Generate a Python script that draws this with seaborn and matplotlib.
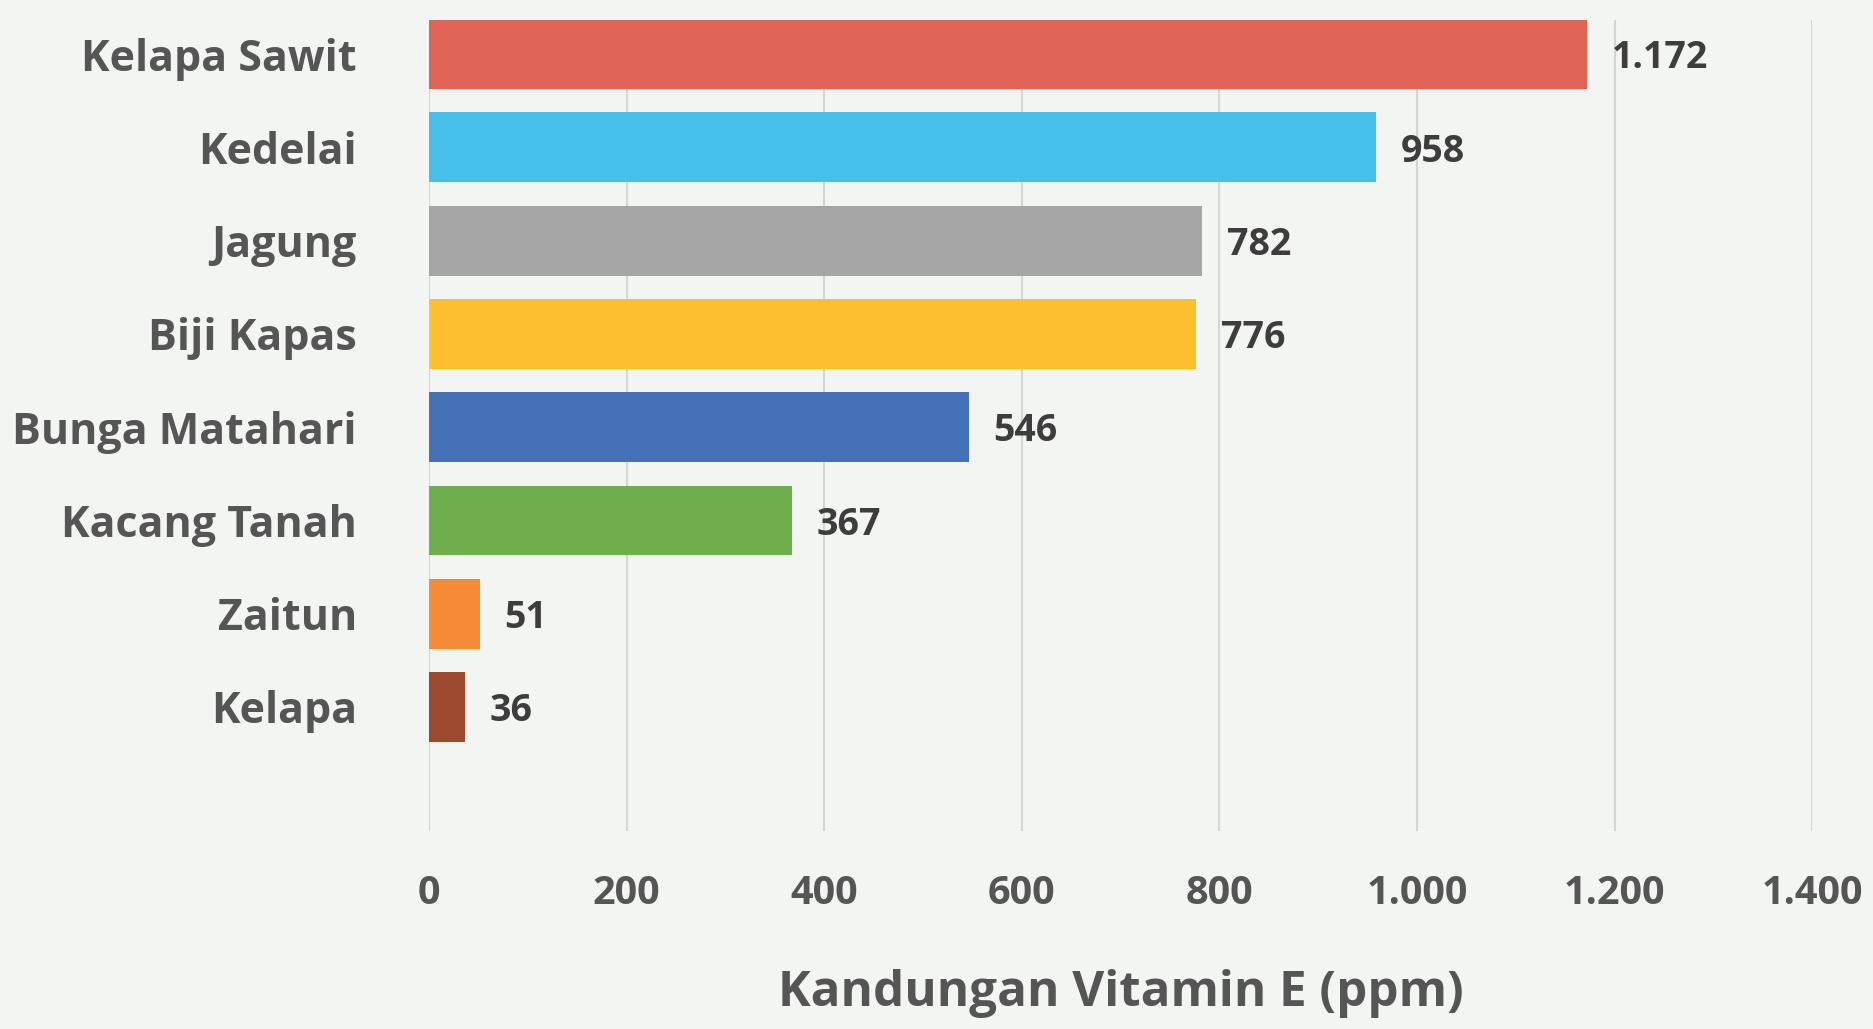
import matplotlib
matplotlib.use("Agg")
import matplotlib.pyplot as plt
import seaborn as sns
import pandas as pd

categories = ["Kelapa Sawit", "Kedelai", "Jagung", "Biji Kapas",
              "Bunga Matahari", "Kacang Tanah", "Zaitun", "Kelapa"]
values = [1172, 958, 782, 776, 546, 367, 51, 36]
colors = ["#e06455", "#46bfea", "#a6a6a6", "#fdbf2e",
          "#4571b6", "#6fae4d", "#f58b34", "#9c4930"]
xticks = [0, 200, 400, 600, 800, 1000, 1200, 1400]
xlabel = "Kandungan Vitamin E (ppm)"

def fmt(v):
    return f"{v:,}".replace(",", ".")

sns.set_style("white")
plt.rcParams['font.family'] = ['Open Sans', 'DejaVu Sans']
bg = "#f3f5f2"
text_col = "#555555"

fig = plt.figure(figsize=(18.74, 10.29), dpi=100, facecolor=bg)
ax = fig.add_axes([0.229, 0.1924, 0.738, 0.788])
ax.set_facecolor(bg)

df = pd.DataFrame({"cat": categories, "val": values})
sns.barplot(data=df, x="val", y="cat", hue="cat", palette=colors,
            order=categories, hue_order=categories, legend=False,
            width=0.75, saturation=1, linewidth=0, ax=ax, zorder=3)

ax.set_xlim(0, 1400)
ax.set_ylim(8.33, -0.365)
ax.set_xticks(xticks)
ax.set_xticklabels([fmt(t) for t in xticks], fontsize=28.5, fontweight="bold", color=text_col)
ax.tick_params(axis="x", length=0, pad=31)
ax.tick_params(axis="y", length=0, pad=52)
for lab in ax.get_yticklabels():
    lab.set_fontsize(31)
    lab.set_fontweight("bold")
    lab.set_color(text_col)
ax.grid(axis="x", color="#d3d6d3", linewidth=1.5, zorder=0)
ax.grid(axis="y", visible=False)
for s in ax.spines.values():
    s.set_visible(False)
ax.set_ylabel("")
ax.set_xlabel(xlabel, fontsize=35.5, fontweight="bold", color=text_col, labelpad=40)

for i, v in enumerate(values):
    ax.annotate(fmt(v), xy=(v, i), xytext=(18, -3), textcoords="offset points",
                ha="left", va="center", fontsize=27, fontweight="bold", color="#3d3d3d")

fig.savefig("out.png", dpi=100, facecolor=bg)
